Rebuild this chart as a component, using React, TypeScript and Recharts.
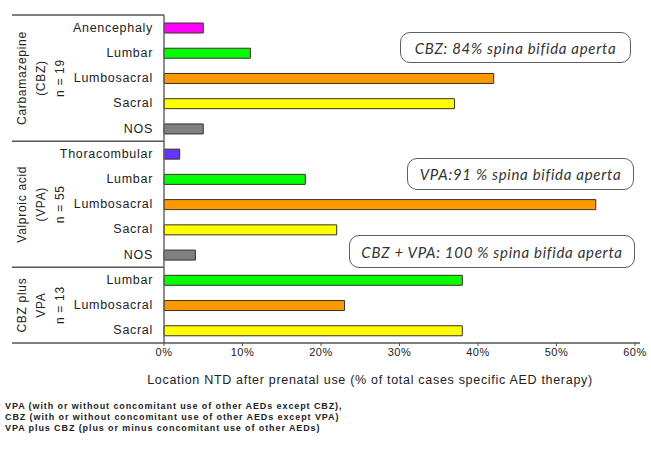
import React from 'react';
import { BarChart, Bar, XAxis, YAxis, Cell } from 'recharts';

const rowLabels = ['Anencephaly', 'Lumbar', 'Lumbosacral', 'Sacral', 'NOS', 'Thoracombular', 'Lumbar', 'Lumbosacral', 'Sacral', 'NOS', 'Lumbar', 'Lumbosacral', 'Sacral'];
const rowValues = [5, 11, 42, 37, 5, 2, 18, 55, 22, 4, 38, 23, 38];
const groupLabels = [
  ['Carbamazepine', '(CBZ)', 'n = 19'],
  ['Valproic acid', '(VPA)', 'n = 55'],
  ['CBZ plus', 'VPA', 'n = 13'],
];
const groupStart = [0, 5, 10];
const groupMid = [2, 7, 11];
const xTicks = [0, 10, 20, 30, 40, 50, 60];
const xTitle = 'Location NTD after prenatal use (% of total cases specific AED therapy)';
const notes = [
  'CBZ: 84% spina bifida aperta',
  'VPA:91 % spina bifida aperta',
  'CBZ + VPA: 100 % spina bifida aperta',
];
const footnotes = [
  'VPA (with or without concomitant use of other AEDs except CBZ),',
  'CBZ (with or without concomitant use of other AEDs except VPA)',
  'VPA plus CBZ (plus or minus concomitant use of other AEDs)',
];

const colorMap: Record<string, string> = {
  Anencephaly: '#FF00FF',
  Lumbar: '#00FF00',
  Lumbosacral: '#FF9900',
  Sacral: '#FFFF00',
  NOS: '#808080',
  Thoracombular: '#6633FF',
};

const data = rowLabels.map((l, i) => ({ id: 'r' + i, label: l, value: rowValues[i] }));

const W = 651;
const H = 449;
const TOP = 15;
const BOTTOM_AXIS = 343;
const ROW_H = (BOTTOM_AXIS - TOP) / rowLabels.length;
const FONT = '"Liberation Sans", Arial, sans-serif';

const YTick = (props: any) => {
  const { x, y, index } = props;
  const els: any[] = [];
  els.push(
    <text key="t" x={x} y={y} dy={4} textAnchor="end" fontSize={12.5} letterSpacing={0.7} fill="#222" fontFamily={FONT}>
      {rowLabels[index]}
    </text>
  );
  const gs = groupStart.indexOf(index);
  if (gs >= 0) {
    els.push(<line key="l" x1={12} x2={164} y1={y - ROW_H / 2} y2={y - ROW_H / 2} stroke="#555" strokeWidth={1.5} />);
  }
  if (index === rowLabels.length - 1) {
    els.push(<line key="b" x1={12} x2={640} y1={y + ROW_H / 2} y2={y + ROW_H / 2} stroke="#555" strokeWidth={1.5} />);
  }
  const gm = groupMid.indexOf(index);
  if (gm >= 0) {
    const lines = groupLabels[gm];
    lines.forEach((t, k) => {
      const cx = 22 + k * 19;
      els.push(
        <text key={'g' + k} x={cx} y={y} transform={`rotate(-90 ${cx} ${y})`} dy={4} textAnchor="middle" fontSize={12} letterSpacing={0.7} fill="#222" fontFamily={FONT}>
          {t}
        </text>
      );
    });
  }
  return <g>{els}</g>;
};

const boxStyle = (left: number, top: number, w: number, h: number): React.CSSProperties => ({
  position: 'absolute',
  left,
  top,
  width: w,
  height: h,
  boxSizing: 'border-box',
  border: '1.5px solid #5e5e5e',
  borderRadius: 10,
  display: 'flex',
  alignItems: 'center',
  justifyContent: 'center',
  fontFamily: 'Lato, "Open Sans", sans-serif',
  fontStyle: 'italic',
  fontSize: 15,
  letterSpacing: 0.7,
  color: '#333',
  whiteSpace: 'nowrap',
  background: '#fff',
});

export default function App() {
  return (
    <div style={{ position: 'absolute', left: 0, top: 0, width: W, height: H, background: '#fff', fontFamily: FONT }}>
      <BarChart
        width={W}
        height={H}
        data={data}
        layout="vertical"
        margin={{ top: TOP, right: 16, bottom: H - BOTTOM_AXIS - 40, left: 0 }}
        barCategoryGap={0}
      >
        <XAxis
          type="number"
          domain={[0, 60]}
          ticks={xTicks}
          tickFormatter={(v: number) => v + '%'}
          height={40}
          axisLine={false}
          tickLine={{ stroke: '#555' }}
          tickSize={3}
          tick={{ fontSize: 11, fill: '#222', fontFamily: FONT, letterSpacing: 0.5 }}
        />
        <YAxis
          type="category"
          dataKey="id"
          width={164}
          tickSize={0}
          tickMargin={11}
          axisLine={{ stroke: '#666', strokeWidth: 1.5 }}
          tickLine={false}
          interval={0}
          tick={<YTick />}
        />
        <Bar dataKey="value" barSize={10} isAnimationActive={false} stroke="#3a3020" strokeWidth={1}>
          {data.map((d, i) => (
            <Cell key={i} fill={colorMap[d.label]} />
          ))}
        </Bar>
      </BarChart>
      <div style={{ position: 'absolute', left: 0, width: 740, top: 373, textAlign: 'center', fontSize: 12.5, letterSpacing: 0.7, color: '#222' }}>
        {xTitle}
      </div>
      <div style={boxStyle(400, 32, 231, 31)}>{notes[0]}</div>
      <div style={boxStyle(407, 158, 227, 32)}>{notes[1]}</div>
      <div style={boxStyle(349, 235, 286, 33)}>{notes[2]}</div>
      <div style={{ position: 'absolute', left: 5, top: 401, fontSize: 9, letterSpacing: 0.9, fontWeight: 'bold', color: '#222', lineHeight: '11px', whiteSpace: 'nowrap' }}>
        {footnotes.map((f, i) => (
          <div key={i}>{f}</div>
        ))}
      </div>
    </div>
  );
}
